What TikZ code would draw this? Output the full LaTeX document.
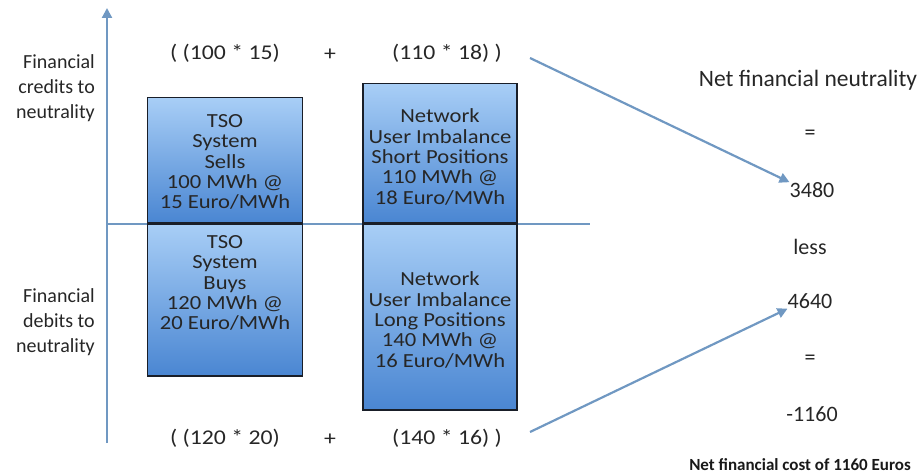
\documentclass[tikz,border=0pt]{standalone}
\usepackage{fontspec}
\setmainfont{Carlito}
\newfontfamily\widefont[FakeStretch=1.13]{Carlito}
\usetikzlibrary{arrows.meta}
\definecolor{axisblue}{RGB}{112,152,194}
\definecolor{boxtop}{RGB}{168,206,246}
\definecolor{boxbot}{RGB}{74,134,210}
\definecolor{boxedge}{RGB}{25,30,40}
\tikzset{
  axisline/.style={draw=axisblue, line width=2.2pt},
  flowarrow/.style={draw=axisblue, line width=2.2pt, -{Triangle[length=10pt,width=10pt]}},
  posbox/.style={draw=boxedge, line width=1.8pt, top color=boxtop, bottom color=boxbot, inner sep=0pt},
  boxtext/.style={align=center, font=\widefont\fontsize{20}{20.3}\selectfont, text=black!85},
  sumtext/.style={font=\widefont\fontsize{21}{24}\selectfont, text=black!85, inner sep=0pt},
  sidetext/.style={align=right, font=\fontsize{20}{25}\selectfont, text=black!85, inner sep=0pt},
  restext/.style={font=\fontsize{22}{26}\selectfont, text=black!85, inner sep=0pt},
}
\begin{document}
\begin{tikzpicture}[x=1pt,y=-1pt]
\useasboundingbox (0,0) rectangle (922,476);
% axes
\coordinate (axbot) at (107,443);
\coordinate (axtop) at (107,8);
\coordinate (hl) at (107,224);
\coordinate (hr) at (590,224);
\draw[axisline, -{Triangle[length=10pt,width=10pt]}] (axbot) -- (axtop);
\draw[axisline] (hl) -- (hr);
% boxes
\node[posbox, minimum width=155pt, minimum height=125pt] (sells) at (225,160) {};
\node[posbox, minimum width=155pt, minimum height=152pt] (buys) at (225,300) {};
\node[posbox, minimum width=154pt, minimum height=139pt] (short) at (440,153) {};
\node[posbox, minimum width=154pt, minimum height=186pt] (long) at (440,317) {};
\node[boxtext] (sellst) at (225,162) {TSO\\System\\Sells\\100 MWh @\\15 Euro/MWh};
\node[boxtext] (buyst) at (225,283) {TSO\\System\\Buys\\120 MWh @\\20 Euro/MWh};
\node[boxtext] (shortt) at (440,157) {Network\\User Imbalance\\Short Positions\\110 MWh @\\18 Euro/MWh};
\node[boxtext] (longt) at (440,320) {Network\\User Imbalance\\Long Positions\\140 MWh @\\16 Euro/MWh};
% sums
\node[sumtext] (s1) at (225,53) {( (100 * 15)};
\node[sumtext] (p1) at (330,55) {+};
\node[sumtext] (s2) at (447,53) {(110 * 18) )};
\node[sumtext] (s3) at (225,438) {( (120 * 20)};
\node[sumtext] (p2) at (330,440) {+};
\node[sumtext] (s4) at (447,438) {(140 * 16) )};
% side labels
\node[sidetext, anchor=east] (cred) at (95,88) {Financial\\credits to\\neutrality};
\node[sidetext, anchor=east] (deb) at (95,322) {Financial\\debits to\\neutrality};
% results
\node[restext, font=\fontsize{23.5}{26}\selectfont] (net) at (808,80) {Net financial neutrality};
\node[restext] (eq1) at (810,135) {=};
\node[restext] (r1) at (812,190) {3480};
\node[restext] (less) at (810,247) {less};
\node[restext] (r2) at (810,301) {4640};
\node[restext] (eq2) at (810,360) {=};
\node[restext] (r3) at (812,414) {-1160};
\node[font=\bfseries\fontsize{17}{20}\selectfont, text=black!90, inner sep=0pt] (cost) at (800,465) {Net financial cost of 1160 Euros};
% arrows
\coordinate (a1s) at (530,58);
\coordinate (a2s) at (530,432);
\draw[flowarrow] (a1s) -- (r1.north west);
\draw[flowarrow] (a2s) -- (r2.south west);
\end{tikzpicture}
\end{document}
